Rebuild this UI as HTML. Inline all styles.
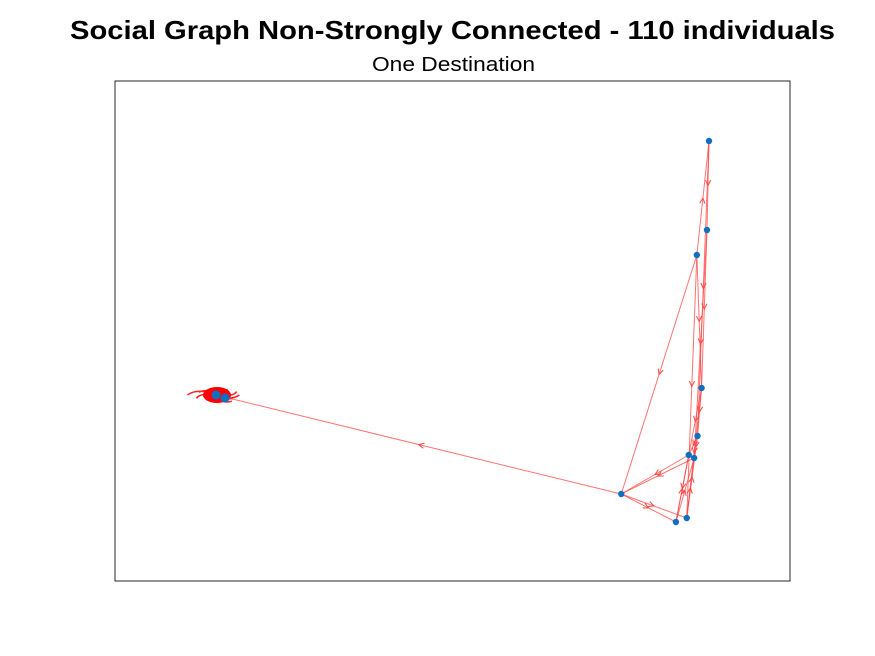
<!DOCTYPE html>
<html><head><meta charset="utf-8"><style>
body{margin:0;background:#fff;}
svg{display:block;font-family:"Liberation Sans",Arial,sans-serif;}
</style></head><body>
<svg id="chart" width="875" height="656">
<rect width="875" height="656" fill="#fff"/>
<text x="70" y="39" textLength="765" lengthAdjust="spacingAndGlyphs" font-size="26" font-weight="bold" fill="#000">Social Graph Non-Strongly Connected - 110 individuals</text>
<text x="372" y="71" textLength="163" lengthAdjust="spacingAndGlyphs" font-size="20" fill="#000">One Destination</text>
<rect x="115" y="81" width="675" height="500" fill="none" stroke="#262626" stroke-width="1"/>
<g id="edges"></g>
<g id="cluster"></g>
<g id="nodes"></g>
</svg>
<script>
const nodeX=[88.0,87.7,86.2,86.9,86.3,85.0,85.8,75.0,84.7,83.1,14.96,16.3];
const nodeY=[88.0,70.2,65.2,38.6,29.0,25.2,24.6,17.4,12.6,11.8,37.2,36.6];
const edgeFrom=[0,2,1,2,3,4,4,1,2,3,5,6,7,7,9,8,9,0,3,7,2,8,5];
const edgeTo  =[1,0,3,3,4,5,6,6,8,8,7,7,9,8,5,6,6,4,5,10,7,4,9];
const clusterAngles=[0,20,40,60,80,100,130,160,180,200,220,250,280,310,340];
const clusterLens=[18,14,16,10,9,8,11,16,22,14,10,8,10,13,17];

const X0=115,X1=790,Y0=581,Y1=81;
const sx=v=>X0+v/100*(X1-X0);
const sy=v=>Y0-v/100*(Y0-Y1);
const NS="http://www.w3.org/2000/svg";
const eg=document.getElementById('edges');
for(let i=0;i<edgeFrom.length;i++){
  const x1=sx(nodeX[edgeFrom[i]]),y1=sy(nodeY[edgeFrom[i]]),x2=sx(nodeX[edgeTo[i]]),y2=sy(nodeY[edgeTo[i]]);
  const l=document.createElementNS(NS,'line');
  l.setAttribute('x1',x1);l.setAttribute('y1',y1);l.setAttribute('x2',x2);l.setAttribute('y2',y2);
  l.setAttribute('stroke','#f44');l.setAttribute('stroke-opacity','0.75');l.setAttribute('stroke-width','1');
  
  
  eg.appendChild(l);
  const mx=(x1+x2)/2,my=(y1+y2)/2,a=Math.atan2(y2-y1,x2-x1);
  const s=6,p=document.createElementNS(NS,'path');
  const bx1=mx-s*Math.cos(a-0.45),by1=my-s*Math.sin(a-0.45),bx2=mx-s*Math.cos(a+0.45),by2=my-s*Math.sin(a+0.45);
  p.setAttribute('d',`M${bx1},${by1}L${mx},${my}L${bx2},${by2}`);
  p.setAttribute('fill','none');p.setAttribute('stroke','#f44');p.setAttribute('stroke-width','1');
  
  
  eg.appendChild(p);
}
const cg=document.getElementById('cluster');
const cx=sx(nodeX[10]),cy=sy(nodeY[10]);
for(let i=0;i<clusterAngles.length;i++){
  const a=clusterAngles[i]*Math.PI/180,L=clusterLens[i];
  const p=document.createElementNS(NS,'path');
  const ex=cx+L*Math.cos(a)*1.3,ey=cy+L*Math.sin(a)*0.6;
  p.setAttribute('d',`M${cx},${cy}Q${cx+L*Math.cos(a+0.6)},${cy+L*0.6*Math.sin(a+0.6)} ${ex},${ey}`);
  p.setAttribute('fill','none');p.setAttribute('stroke','#f22');p.setAttribute('stroke-width','1.5');
  
  
  cg.appendChild(p);
}
const blob=document.createElementNS(NS,'ellipse');
blob.setAttribute('cx',cx+1);blob.setAttribute('cy',cy);blob.setAttribute('rx',14);blob.setAttribute('ry',8);
blob.setAttribute('fill','#f00');


cg.appendChild(blob);
const ng=document.getElementById('nodes');
for(let i=0;i<nodeX.length;i++){
  const c=document.createElementNS(NS,'circle');
  c.setAttribute('cx',sx(nodeX[i]));c.setAttribute('cy',sy(nodeY[i]));c.setAttribute('r',i>=10?4.5:3.2);
  c.setAttribute('fill','#0f6fc0');
  
  
  ng.appendChild(c);
}
</script>
</body></html>
